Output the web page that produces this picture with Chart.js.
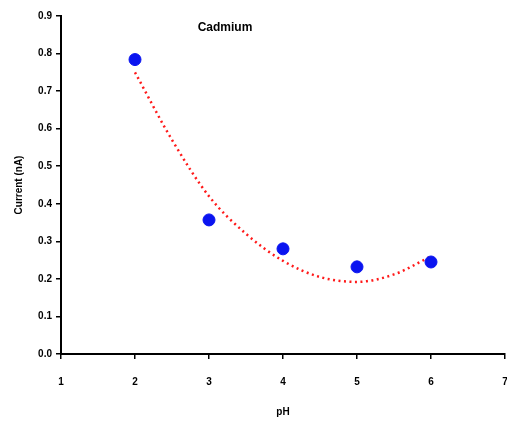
<!DOCTYPE html>
<html lang="en">
<head>
    <meta charset="UTF-8">
    <title>Cadmium</title>
    <script src="https://cdn.jsdelivr.net/npm/chart.js@4.4.1/dist/chart.umd.min.js"></script>
    <style>
        html, body { margin: 0; padding: 0; background: #fff; overflow: hidden; }
        /* a little wider than the window so the plot runs to the right edge */
        .chart-container { width: 512px; height: 422px; }
    </style>
</head>
<body>

    <div class="chart-container">
        <canvas id="chart"></canvas>
    </div>

    <script>

    // measured points
    const phValues = [2, 3, 4, 5, 6];
    const currentValues = [0.784, 0.357, 0.28, 0.232, 0.245];

    const trendPh = [2, 2.5, 3, 3.5, 4, 4.5, 5, 5.5, 6];
    const trendCurrent = [0.75, 0.57, 0.42, 0.32, 0.248, 0.205, 0.192, 0.212, 0.26];

    const xTicks = [1, 2, 3, 4, 5, 6, 7];
    const yTicks = [0, 0.1, 0.2, 0.3, 0.4, 0.5, 0.6, 0.7, 0.8, 0.9];

    const tickFont = { family: 'Liberation Sans, Arial', size: 10, weight: 'bold' };

    // "Cadmium" sits inside the plot area
    const innerTitle = {
        id: 'innerTitle',
        afterDraw(chart) {
            const ctx = chart.ctx;
            const area = chart.chartArea;
            ctx.save();
            ctx.font = 'bold 12px Liberation Sans, Arial';
            ctx.fillStyle = '#000';
            ctx.textAlign = 'center';
            ctx.textBaseline = 'middle';
            ctx.fillText('Cadmium', area.left + 164, area.top + 12);
            ctx.restore();
        }
    };

    const ctx = document.getElementById('chart').getContext('2d');

    const myChart = new Chart(ctx, {
        type: 'scatter',
        data: {
            datasets: [
                {
                    label: 'Cadmium',
                    data: phValues.map((x, i) => ({ x: x, y: currentValues[i] })),
                    backgroundColor: '#0a14f0',
                    borderColor: '#0a14f0',
                    pointRadius: 6,
                    pointHoverRadius: 6,
                    order: 1
                },
                {
                    label: 'Trend',
                    type: 'line',
                    data: trendPh.map((x, i) => ({ x: x, y: trendCurrent[i] })),
                    borderColor: '#ff1a1a',
                    borderWidth: 2.5,
                    borderDash: [2, 3.5],
                    cubicInterpolationMode: 'monotone',
                    pointRadius: 0,
                    fill: false,
                    order: 2
                }
            ]
        },
        options: {
            responsive: true,
            maintainAspectRatio: false,
            animation: false,
            layout: {
                padding: { left: 9, right: 0, top: 16, bottom: 0 }
            },
            plugins: {
                legend: { display: false },
                tooltip: { enabled: false }
            },
            scales: {
                x: {
                    type: 'linear',
                    min: 1,
                    max: 7,
                    afterBuildTicks: (scale) => { scale.ticks = xTicks.map(v => ({ value: v })); },
                    afterFit: (scale) => {
                        scale.height = 68;
                        scale.paddingRight = 0;
                        scale.paddingLeft = 0;
                    },
                    ticks: {
                        color: '#000',
                        font: tickFont,
                        padding: 17,
                        maxRotation: 0,
                        callback: (v) => v
                    },
                    grid: {
                        drawOnChartArea: false,
                        drawTicks: true,
                        tickLength: 5,
                        color: '#000',
                        lineWidth: 1.5
                    },
                    border: { color: '#000', width: 2 },
                    title: {
                        display: true,
                        text: 'pH',
                        color: '#000',
                        font: tickFont,
                        padding: { top: 6 }
                    }
                },
                y: {
                    min: 0,
                    max: 0.9,
                    afterBuildTicks: (scale) => { scale.ticks = yTicks.map(v => ({ value: v })); },
                    afterFit: (scale) => { scale.width = 52; },
                    ticks: {
                        color: '#000',
                        font: tickFont,
                        padding: 4,
                        callback: (v) => v.toFixed(1)
                    },
                    grid: {
                        drawOnChartArea: false,
                        drawTicks: true,
                        tickLength: 5,
                        color: '#000',
                        lineWidth: 1.5
                    },
                    border: { color: '#000', width: 2 },
                    title: {
                        display: true,
                        text: 'Current (nA)',
                        color: '#000',
                        font: tickFont,
                        padding: { bottom: 4 }
                    }
                }
            }
        },
        plugins: [innerTitle]
    });

    </script>

</body>
</html>
